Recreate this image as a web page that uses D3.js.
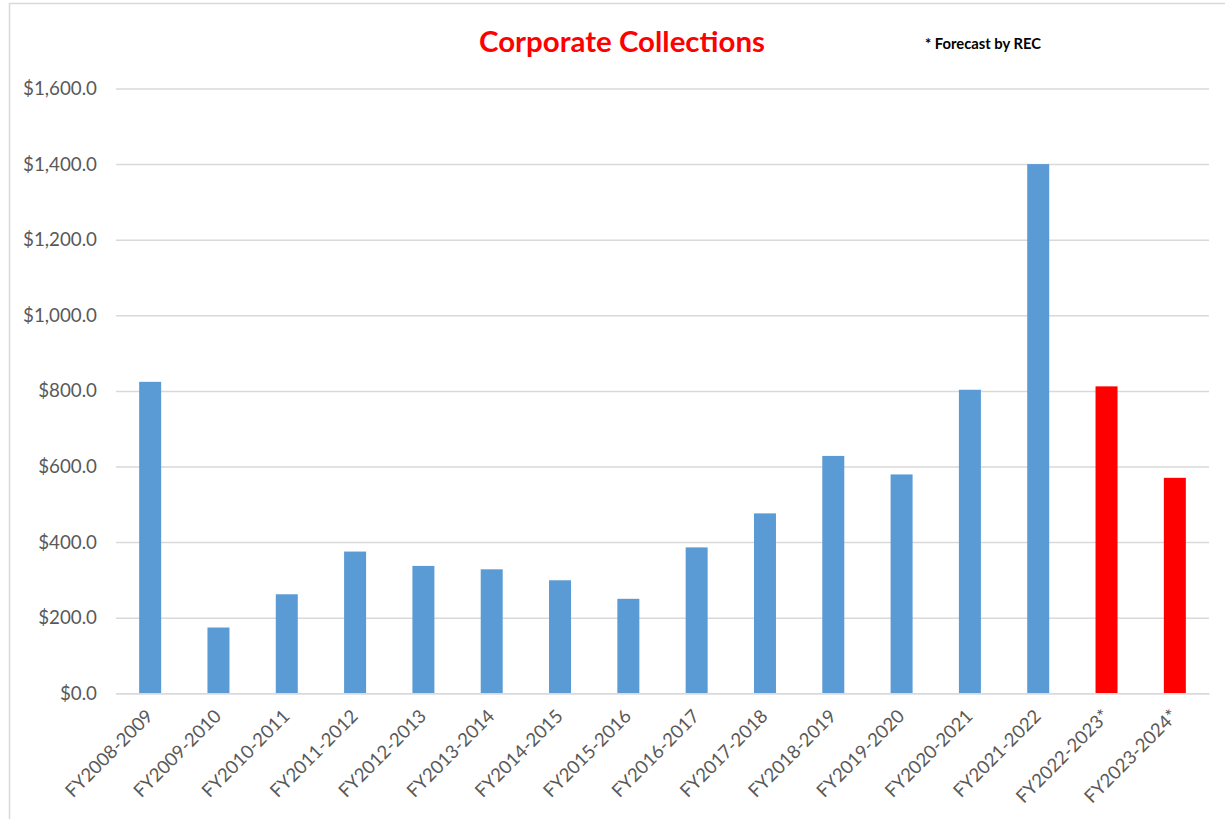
<!DOCTYPE html>
<html>
<head>
<meta charset="utf-8">
<script src="https://cdn.jsdelivr.net/npm/d3@7"></script>
<style>
  html, body { margin: 0; padding: 0; background: #fff; }
  svg { display: block; }
</style>
</head>
<body>
<div id="chart"></div>
<script>
const categories = ["FY2008-2009","FY2009-2010","FY2010-2011","FY2011-2012","FY2012-2013","FY2013-2014","FY2014-2015","FY2015-2016","FY2016-2017","FY2017-2018","FY2018-2019","FY2019-2020","FY2020-2021","FY2021-2022","FY2022-2023*","FY2023-2024*"];
const values = [824, 174, 262, 375, 337, 328, 299, 250, 386, 476, 628, 579, 803, 1400, 812, 570];
const forecast = [false,false,false,false,false,false,false,false,false,false,false,false,false,false,true,true];
const yTicks = [0, 200, 400, 600, 800, 1000, 1200, 1400, 1600];
const titleText = "Corporate Collections";
const noteText = "* Forecast by REC";

const W = 1225, H = 819;
const FONT = "Lato, 'Open Sans', 'Liberation Sans', sans-serif";
const svg = d3.select("#chart").append("svg").attr("width", W).attr("height", H);

// chart border
svg.append("rect").attr("x", 9.5).attr("y", 3.5).attr("width", 1260).attr("height", 860)
  .attr("fill", "none").attr("stroke", "#D9D9D9").attr("stroke-width", 1.5);

const plot = { left: 116, right: 1209, top: 88.5, bottom: 693.3 };

const x = d3.scaleBand().domain(categories).range([plot.left, plot.right])
  .paddingInner(0.678).paddingOuter(0.339);
const y = d3.scaleLinear().domain([0, 1600]).range([plot.bottom, plot.top]);

// gridlines + y labels
const yAxis = d3.axisLeft(y).tickValues(yTicks).tickSize(-(plot.right - plot.left)).tickPadding(19)
  .tickFormat(d => "$" + d3.format(",.1f")(d));
const gy = svg.append("g").attr("transform", `translate(${plot.left},0)`).call(yAxis);
gy.select(".domain").remove();
gy.selectAll(".tick line").attr("stroke", "#D9D9D9").attr("stroke-width", 1.5);
const yText = gy.selectAll(".tick text").attr("fill", "#595959").style("font-family", FONT).style("font-size", "17px");
// fit "$1,600.0" width to ~74px
const topLbl = yText.filter(d => d === 1600).node();
if (topLbl) {
  const w = topLbl.getComputedTextLength();
  if (w > 0) yText.style("font-size", (17 * 74 / w).toFixed(2) + "px");
}

// bars
svg.append("g").selectAll("rect").data(values).join("rect")
  .attr("x", (d, i) => x(categories[i]))
  .attr("width", x.bandwidth())
  .attr("y", d => y(d))
  .attr("height", d => y(0) - y(d))
  .attr("fill", (d, i) => forecast[i] ? "#FF0000" : "#5B9BD5");

// x axis
const xAxis = d3.axisBottom(x).tickSize(0).tickPadding(0);
const gx = svg.append("g").attr("transform", `translate(0,${plot.bottom})`).call(xAxis);
gx.select(".domain").attr("stroke", "#D9D9D9").attr("stroke-width", 1.5);
const xText = gx.selectAll(".tick text")
  .attr("fill", "#595959").style("font-family", FONT).style("font-size", "16px")
  .attr("text-anchor", "end").attr("dy", "0")
  .attr("transform", "translate(4,24) rotate(-45)");
const firstX = xText.node();
if (firstX) {
  const w = firstX.getComputedTextLength();
  if (w > 0) xText.style("font-size", (16 * 115 / w).toFixed(2) + "px");
}

// title
const title = svg.append("text").attr("x", 622).attr("y", 52).attr("text-anchor", "middle")
  .attr("fill", "#FF0000").style("font-family", FONT).style("font-weight", "bold").style("font-size", "26px")
  .text(titleText);
let tw = title.node().getComputedTextLength();
if (tw > 0) title.style("font-size", (26 * 286 / tw).toFixed(2) + "px");

const note = svg.append("text").attr("x", 925).attr("y", 49).attr("text-anchor", "start")
  .attr("fill", "#000").style("font-family", FONT).style("font-weight", "bold").style("font-size", "12px")
  .text(noteText);
let nw = note.node().getComputedTextLength();
if (nw > 0) note.style("font-size", (12 * 116 / nw).toFixed(2) + "px");
</script>
</body>
</html>
